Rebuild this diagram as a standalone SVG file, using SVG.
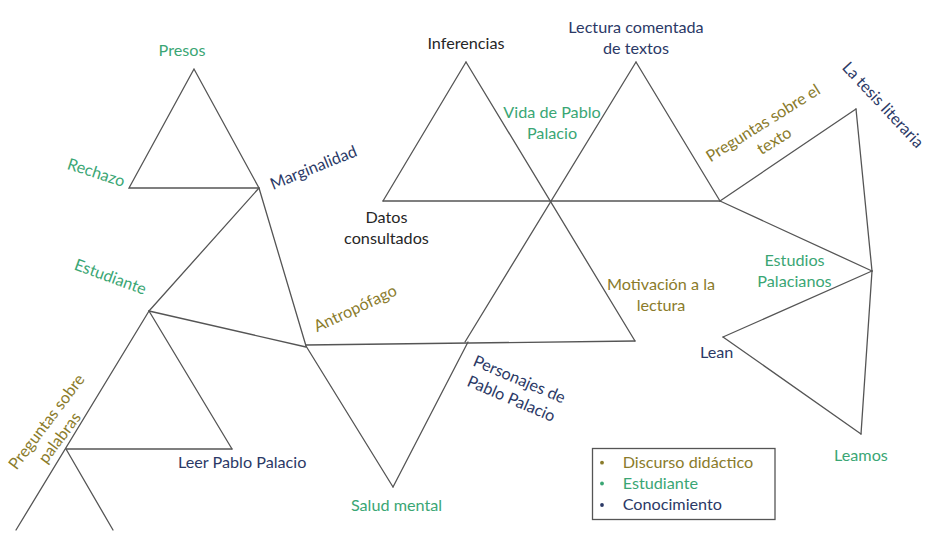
<svg xmlns="http://www.w3.org/2000/svg" width="940" height="533" viewBox="0 0 940 533">
<style>
text{font-family:Lato,"Open Sans","Liberation Sans",sans-serif;font-size:16.2px}
.g{fill:#3aa674}.o{fill:#8a7b2b}.n{fill:#2b3966}.k{fill:#262626}
.m{text-anchor:middle}
#connectors line,#connectors polygon{stroke:#555;stroke-width:1.3;fill:none;stroke-linecap:round}
</style>
<rect width="940" height="533" fill="#fff"/>
<g id="connectors">
<polygon points="194,69 129,188 259,188"/>
<line x1="259" y1="188" x2="149" y2="311"/>
<line x1="259" y1="188" x2="306" y2="346"/>
<line x1="149" y1="311" x2="306" y2="347"/>
<line x1="149" y1="311" x2="16" y2="530"/>
<line x1="149" y1="311" x2="232" y2="449"/>
<line x1="66" y1="449" x2="232" y2="449"/>
<line x1="66" y1="449" x2="113" y2="530"/>
<line x1="306" y1="345" x2="635" y2="341"/>
<line x1="306" y1="346" x2="393" y2="487"/>
<line x1="393" y1="487" x2="468" y2="342"/>
<line x1="466" y1="62" x2="383" y2="201"/>
<line x1="466" y1="62" x2="635" y2="341"/>
<line x1="636" y1="62" x2="465" y2="342"/>
<line x1="636" y1="62" x2="720" y2="201"/>
<line x1="383" y1="201" x2="720" y2="201"/>
<line x1="720" y1="201" x2="856" y2="109"/>
<line x1="720" y1="201" x2="872" y2="271"/>
<line x1="856" y1="109" x2="872" y2="271"/>
<line x1="872" y1="271" x2="861" y2="434"/>
<line x1="872" y1="271" x2="723" y2="337"/>
<line x1="723" y1="337" x2="861" y2="434"/>
</g>
<g id="presos"><text class="g m" x="182" y="55.5">Presos</text></g>
<g id="rechazo"><text class="g m" transform="translate(94.5,177.8) rotate(18)">Rechazo</text></g>
<g id="marginalidad"><text class="n m" transform="translate(315.5,172.7) rotate(-22)">Marginalidad</text></g>
<g id="estudiante"><text class="g m" transform="translate(108.5,282) rotate(20)">Estudiante</text></g>
<g id="antropofago"><text class="o m" transform="translate(357.5,313.4) rotate(-25)">Antropófago</text></g>
<g id="preguntas-palabras"><text class="o m" transform="translate(51,425) rotate(-53)"><tspan x="0" y="0">Preguntas sobre</tspan><tspan x="-5" y="20">palabras</tspan></text></g>
<g id="leer"><text class="n" x="178" y="468.3">Leer Pablo Palacio</text></g>
<g id="salud"><text class="g m" x="396.5" y="510.7">Salud mental</text></g>
<g id="personajes"><text class="n m" transform="translate(517.3,384.4) rotate(23)"><tspan x="0" y="0">Personajes de</tspan><tspan x="0" y="21">Pablo Palacio</tspan></text></g>
<g id="inferencias"><text class="k m" x="466" y="49.3">Inferencias</text></g>
<g id="lectura"><text class="n m" x="636" y="33.3"><tspan x="636">Lectura comentada</tspan><tspan x="636" y="54.3">de textos</tspan></text></g>
<g id="vida"><text class="g m" x="552" y="118"><tspan x="552">Vida de Pablo</tspan><tspan x="552" y="139">Palacio</tspan></text></g>
<g id="datos"><text class="k m" x="386.5" y="223"><tspan x="386.5">Datos</tspan><tspan x="386.5" y="244">consultados</tspan></text></g>
<g id="motivacion"><text class="o m" x="661" y="290"><tspan x="661">Motivación a la</tspan><tspan x="661" y="310.7">lectura</tspan></text></g>
<g id="preguntas-texto"><text class="o m" transform="translate(766,127.7) rotate(-32)"><tspan x="0" y="0">Preguntas sobre el</tspan><tspan x="0" y="21">texto</tspan></text></g>
<g id="tesis"><text class="n m" transform="translate(879,108.6) rotate(47)">La tesis literaria</text></g>
<g id="estudios"><text class="g m" x="794.5" y="266"><tspan x="794.5">Estudios</tspan><tspan x="794.5" y="286.7">Palacianos</tspan></text></g>
<g id="lean"><text class="n" x="700" y="358.3">Lean</text></g>
<g id="leamos"><text class="g" x="834" y="461">Leamos</text></g>
<g id="legend">
<rect x="592.5" y="448.5" width="182.5" height="71" fill="#fff" stroke="#555" stroke-width="1.3"/>
<circle cx="602" cy="462.7" r="1.9" fill="#8a7b2b"/>
<circle cx="602" cy="483.5" r="1.9" fill="#3aa674"/>
<circle cx="602" cy="505" r="1.9" fill="#2b3966"/>
<text class="o" x="622.7" y="467.7">Discurso didáctico</text>
<text class="g" x="622.7" y="489">Estudiante</text>
<text class="n" x="622.7" y="510">Conocimiento</text>
</g>
</svg>
